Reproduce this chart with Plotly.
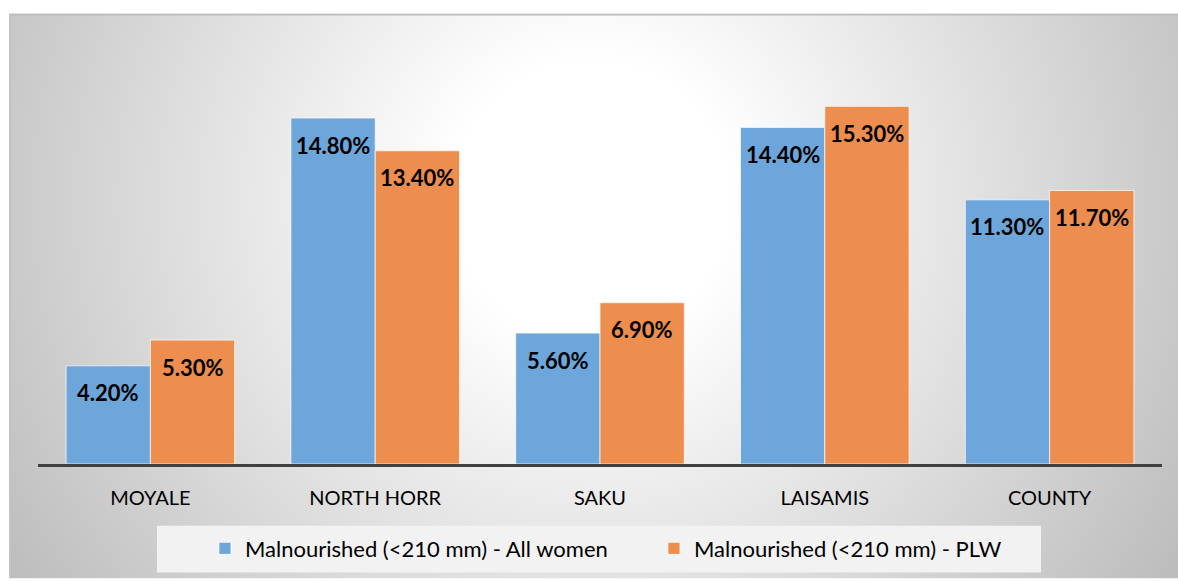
import base64
import plotly.graph_objects as go

# Survey data: share of women with MUAC < 210 mm, by sub-county
categories = ["MOYALE", "NORTH HORR", "SAKU", "LAISAMIS", "COUNTY"]
all_women = [4.2, 14.8, 5.6, 14.4, 11.3]
plw = [5.3, 13.4, 6.9, 15.3, 11.7]
series_names = ["Malnourished (<210 mm) - All women", "Malnourished (<210 mm) - PLW"]

W, H = 1178, 581
# plot-area geometry in pixels
L, R, T, B = 38, 1162, 90, 466
PW, PH = R - L, B - T
YMAX = 16
BARGAP = 0.25


def px_x(p):
    return (p - L) / PW


def px_y(p):
    return (B - p) / PH


# radial grey backdrop of the chart area
bx0, by0 = 9, 13
bw, bh = W - bx0, H - by0
svg = f"""<svg xmlns='http://www.w3.org/2000/svg' width='{bw}' height='{bh}' viewBox='0 0 {bw} {bh}'>
<defs><radialGradient id='g' gradientUnits='userSpaceOnUse' cx='581' cy='187' r='690'>
<stop offset='0' stop-color='#ffffff'/><stop offset='0.2' stop-color='#ffffff'/>
<stop offset='1' stop-color='#bdbdbd'/></radialGradient></defs>
<rect x='0' y='0' width='{bw}' height='{bh}' fill='url(#g)'/>
<line x1='0' y1='1' x2='{bw}' y2='1' stroke='#bcbcbc' stroke-width='2'/>
<line x1='1' y1='0' x2='1' y2='{bh}' stroke='#c2c2c2' stroke-width='2'/>
</svg>"""
bg_uri = "data:image/svg+xml;base64," + base64.b64encode(svg.encode()).decode()

FONT = "Lato, 'Open Sans', sans-serif"
label_font = dict(family=FONT, size=22, color="#000000", weight="bold")

fig = go.Figure()
fig.add_trace(go.Bar(
    x=categories, y=all_women, name=series_names[0],
    marker=dict(color="#6da6da", line=dict(color="rgba(255,255,255,0.7)", width=1)),
))
fig.add_trace(go.Bar(
    x=categories, y=plw, name=series_names[1],
    marker=dict(color="#ed8d4e", line=dict(color="rgba(255,255,255,0.7)", width=1)),
))

# value labels sit inside each bar, a little below its top
bar_px = PW / len(categories) * (1 - BARGAP) / 2
annotations = []
for series, side in ((all_women, -1), (plw, 1)):
    for cat, v in zip(categories, series):
        annotations.append(dict(
            x=cat, y=v, xref="x", yref="y", text=f"{v:.2f}%",
            showarrow=False, xanchor="center", yanchor="middle",
            xshift=side * bar_px / 2, yshift=-27, font=label_font,
        ))

fig.update_layout(
    width=W, height=H,
    margin=dict(l=L, r=W - R, t=T, b=H - B, pad=0),
    paper_bgcolor="#ffffff", plot_bgcolor="rgba(0,0,0,0)",
    barmode="group", bargap=BARGAP, bargroupgap=0,
    font=dict(family=FONT, color="#000000"),
    showlegend=True,
    legend=dict(
        orientation="h", x=0.548, xanchor="center", y=px_y(551), yanchor="middle",
        bgcolor="rgba(0,0,0,0)", font=dict(size=22, color="#000000"),
        itemwidth=30, entrywidth=404, entrywidthmode="pixels",
    ),
    xaxis=dict(
        showgrid=False, ticks="", showline=True, linecolor="#404040", linewidth=3,
        tickfont=dict(size=20, color="#000000"), ticklabelstandoff=14,
        fixedrange=True,
    ),
    yaxis=dict(range=[0, YMAX], visible=False, fixedrange=True),
    annotations=annotations,
    images=[dict(
        source=bg_uri, xref="paper", yref="paper",
        x=px_x(bx0), y=px_y(by0), sizex=bw / PW, sizey=bh / PH,
        xanchor="left", yanchor="top", sizing="stretch", layer="below",
    )],
    shapes=[dict(
        type="rect", xref="paper", yref="paper", layer="below",
        x0=px_x(157), x1=px_x(1041), y0=px_y(528), y1=px_y(575),
        fillcolor="#f2f2f2", line=dict(width=0),
    )],
)

fig.write_html("out.html")
